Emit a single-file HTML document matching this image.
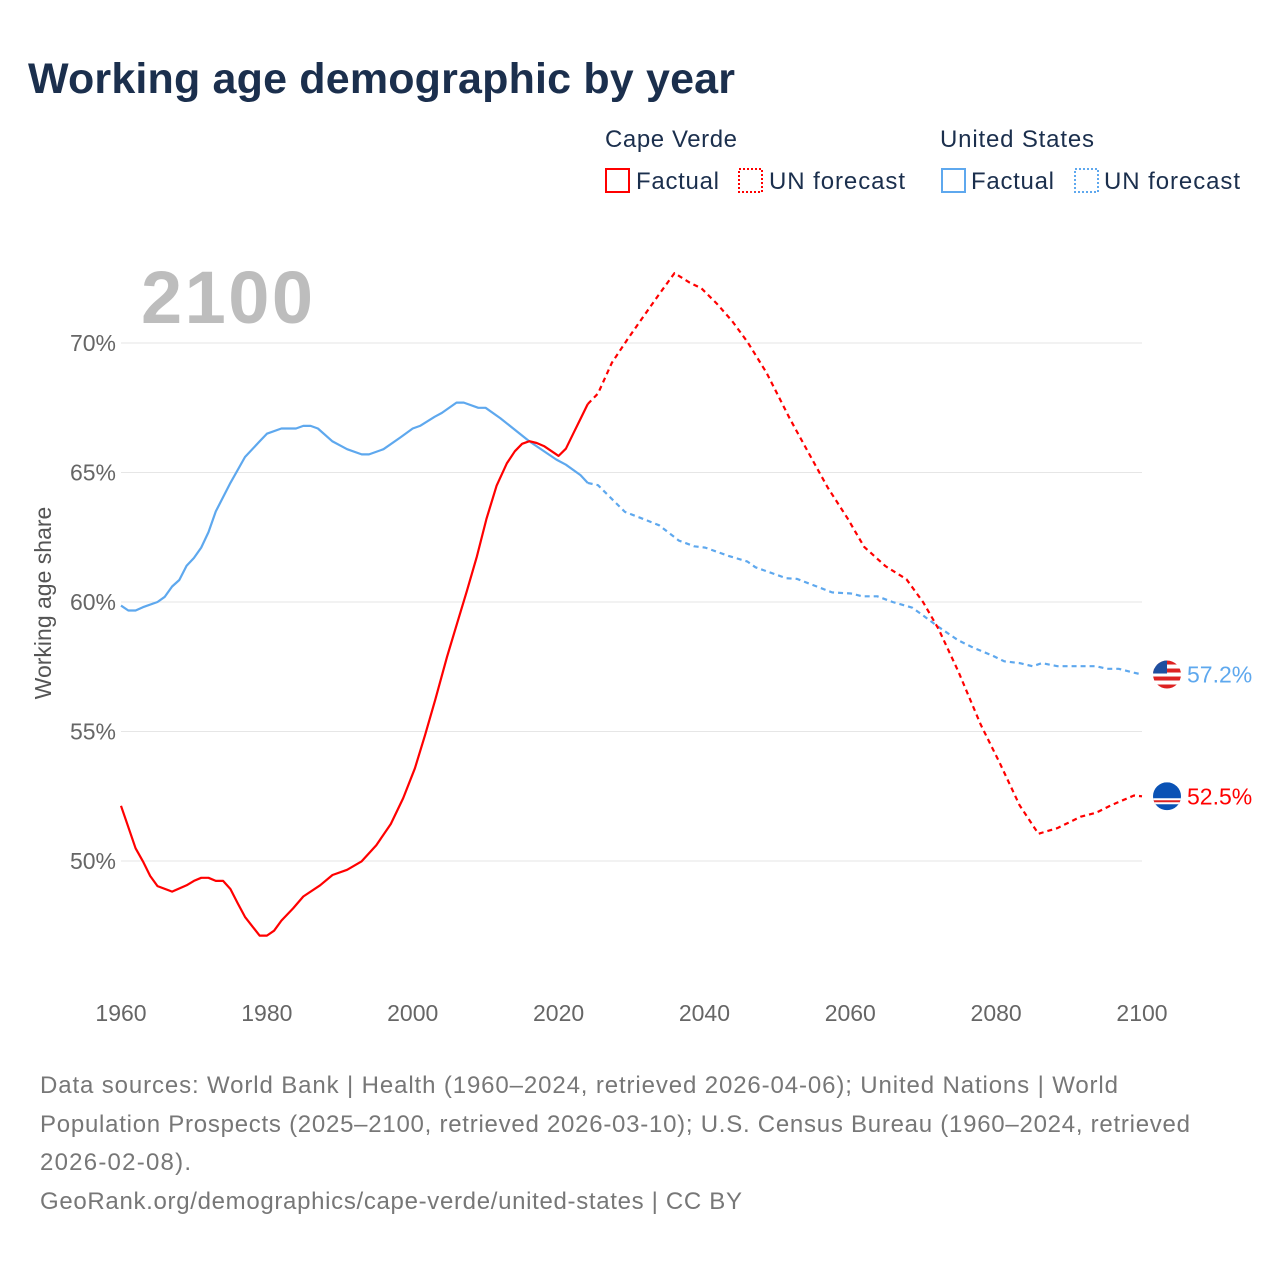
<!DOCTYPE html>
<html><head><meta charset="utf-8"><style>
body{margin:0;background:#fff;width:1280px;height:1280px;overflow:hidden;font-family:"Liberation Sans",sans-serif}
svg text{font-family:"Liberation Sans",sans-serif}
</style></head><body>
<svg id="chart" width="1280" height="1280" viewBox="0 0 1280 1280">
<text x="28" y="93" font-size="43" font-weight="bold" fill="#1b2f4d" textLength="707">Working age demographic by year</text>
<g>
<text x="605" y="147" font-size="24" fill="#1b2f4d" textLength="132">Cape Verde</text>
<text x="940" y="147" font-size="24" fill="#1b2f4d" textLength="154">United States</text>
<rect x="606" y="169" width="23" height="23" fill="none" stroke="#ff0000" stroke-width="2"/>
<text x="636" y="189" font-size="24" fill="#1b2f4d" textLength="83">Factual</text>
<rect x="739" y="169" width="23" height="23" fill="none" stroke="#ff0000" stroke-width="2" stroke-dasharray="2 2"/>
<text x="769" y="189" font-size="24" fill="#1b2f4d" textLength="136">UN forecast</text>
<rect x="942" y="169" width="23" height="23" fill="none" stroke="#5ea8ee" stroke-width="2"/>
<text x="971" y="189" font-size="24" fill="#1b2f4d" textLength="83">Factual</text>
<rect x="1075" y="169" width="23" height="23" fill="none" stroke="#5ea8ee" stroke-width="2" stroke-dasharray="2 2"/>
<text x="1104" y="189" font-size="24" fill="#1b2f4d" textLength="136">UN forecast</text>
</g>
<text x="141" y="323" font-size="74" font-weight="bold" fill="#bdbdbd" textLength="172">2100</text>
<text transform="translate(51,603) rotate(-90)" text-anchor="middle" font-size="23" fill="#555">Working age share</text>
<g id="grid"></g><g id="lines"></g><g id="xt"></g>
<g font-size="24" fill="#777">
<text x="40" y="1093" textLength="1078">Data sources: World Bank | Health (1960–2024, retrieved 2026-04-06); United Nations | World</text>
<text x="40" y="1132" textLength="1150">Population Prospects (2025–2100, retrieved 2026-03-10); U.S. Census Bureau (1960–2024, retrieved</text>
<text x="40" y="1170" textLength="151">2026-02-08).</text>
<text x="40" y="1209" textLength="702">GeoRank.org/demographics/cape-verde/united-states | CC BY</text>
</g>
</svg>
<script>
const yTicks=[50,55,60,65,70];
const xTicks=[1960,1980,2000,2020,2040,2060,2080,2100];
const cvYears=[1960,1962,1963,1964,1965,1967,1969,1970,1971,1972,1973,1974,1975,1976,1977,1978,1979,1980,1981,1982,1983.6,1985,1987.3,1989,1991,1993,1995,1997,1998.7,2000.3,2001.7,2003.1,2004.7,2006,2007.4,2008.8,2010.1,2011.5,2012.9,2014,2015,2016,2017,2018,2020,2021,2022,2023,2024];
const cvVals=[52.13,50.49,49.99,49.42,49.03,48.82,49.06,49.23,49.35,49.35,49.23,49.23,48.92,48.37,47.84,47.48,47.12,47.12,47.31,47.7,48.17,48.63,49.06,49.46,49.66,49.99,50.61,51.43,52.43,53.58,54.87,56.23,57.88,59.1,60.4,61.76,63.2,64.49,65.35,65.82,66.11,66.21,66.14,66.02,65.64,65.92,66.5,67.07,67.64];
const cvFYears=[2024,2025.4,2027.3,2029.4,2031.2,2033.6,2035.9,2038,2039.6,2041.7,2043.8,2045.9,2048.5,2051.7,2054.3,2056.9,2059.6,2061.9,2064.8,2067.7,2070,2072.1,2074.8,2077.9,2080.5,2083.2,2085.8,2088.4,2091.6,2093.7,2095.8,2098.9,2100];
const cvFVals=[67.64,68.05,69.23,70.12,70.85,71.81,72.7,72.33,72.11,71.52,70.85,70.04,68.86,67.08,65.75,64.42,63.24,62.13,61.39,60.88,59.99,58.96,57.33,55.26,53.78,52.16,51.05,51.27,51.71,51.86,52.16,52.53,52.5];
const usYears=[1960,1961,1962,1963,1965,1966,1967,1968,1969,1970,1971,1972,1973,1975,1977,1979,1980,1982,1984,1985,1986,1987,1989,1991,1993,1994,1996,1998.3,2000,2001,2003,2004,2006,2007,2009,2010,2012,2016,2019.7,2021,2023,2024];
const usVals=[59.86,59.67,59.67,59.8,60.0,60.2,60.6,60.85,61.4,61.7,62.1,62.7,63.5,64.6,65.6,66.2,66.5,66.7,66.7,66.8,66.8,66.7,66.2,65.9,65.7,65.7,65.9,66.35,66.7,66.8,67.15,67.3,67.7,67.7,67.5,67.5,67.1,66.2,65.5,65.3,64.9,64.6];
const usFYears=[2024,2025.4,2029.1,2031.2,2033.8,2036.5,2038.6,2040.1,2043.3,2045.9,2047,2051.2,2052.7,2057.5,2060.1,2061.6,2063.7,2065.8,2068.5,2070,2072.1,2074.8,2076.9,2079.5,2081.1,2083.2,2085,2086.3,2088.4,2093.7,2095.2,2096.8,2098.9,2100];
const usFVals=[64.6,64.51,63.48,63.25,62.96,62.37,62.15,62.1,61.78,61.56,61.34,60.92,60.89,60.37,60.33,60.22,60.22,60.0,59.78,59.48,59.04,58.52,58.23,57.93,57.71,57.64,57.52,57.64,57.52,57.52,57.42,57.42,57.27,57.2];
const NS='http://www.w3.org/2000/svg';
const xS=y=>121+(y-1960)*(1021/140);
const yS=v=>861-(v-50)*25.9;
function mk(tag,attrs,parent){const e=document.createElementNS(NS,tag);for(const k in attrs)e.setAttribute(k,attrs[k]);parent.appendChild(e);return e;}
const grid=document.getElementById('grid');
yTicks.forEach(t=>{
 const l=mk('line',{x1:121,x2:1142,y1:yS(t),y2:yS(t),stroke:'#e6e6e6','stroke-width':1},grid);
 
 
 const tx=mk('text',{x:116,y:yS(t)+8,'text-anchor':'end','font-size':23,fill:'#666'},grid);
 tx.textContent=t+'%';
 
 
});
const xt=document.getElementById('xt');
xTicks.forEach(t=>{
 const tx=mk('text',{x:xS(t),y:1021,'text-anchor':'middle','font-size':23,fill:'#666'},xt);
 tx.textContent=t;
 
 
});
const lines=document.getElementById('lines');
function path(xs,vs,color,dash,name){
 const d=xs.map((x,i)=>(i?'L':'M')+xS(x).toFixed(1)+','+yS(vs[i]).toFixed(1)).join('');
 const p=mk('path',{d:d,fill:'none',stroke:color,'stroke-width':2.2,'stroke-linejoin':'round'},lines);
 if(dash)p.setAttribute('stroke-dasharray','5 4');
 
 
}
path(usYears,usVals,'#5ea8ee',false,'us-factual-line');
path(usFYears,usFVals,'#5ea8ee',true,'us-forecast-line');
path(cvYears,cvVals,'#ff0000',false,'cv-factual-line');
path(cvFYears,cvFVals,'#ff0000',true,'cv-forecast-line');
const usEnd=usFVals[usFVals.length-1], cvEnd=cvFVals[cvFVals.length-1];
const ux=1167, uy=yS(usEnd), cy=yS(cvEnd);
const g=mk('g',{},lines);


mk('defs',{},g).innerHTML='<clipPath id="cu"><circle cx="'+ux+'" cy="'+uy+'" r="14"/></clipPath><clipPath id="cc"><circle cx="'+ux+'" cy="'+cy+'" r="14"/></clipPath>';
const fu=mk('g',{'clip-path':'url(#cu)'},g);
mk('rect',{x:ux-14,y:uy-14,width:28,height:28,fill:'#fff'},fu);
for(let i=0;i<4;i++)mk('rect',{x:ux-14,y:uy-14+i*8,width:28,height:4,fill:'#d22'},fu);
mk('rect',{x:ux-14,y:uy-14,width:14,height:13,fill:'#1f4fa0'},fu);
const gc=mk('g',{'clip-path':'url(#cc)'},lines);


mk('rect',{x:ux-14,y:cy-14,width:28,height:28,fill:'#0a52b5'},gc);
mk('rect',{x:ux-14,y:cy+2,width:28,height:6,fill:'#fff'},gc);
mk('rect',{x:ux-14,y:cy+4,width:28,height:2,fill:'#d22'},gc);
const l1=mk('text',{x:1187,y:uy+8,'font-size':23,fill:'#5ea8ee'},lines);
l1.textContent=usEnd.toFixed(1)+'%';


const l2=mk('text',{x:1187,y:cy+8,'font-size':23,fill:'#ff0000'},lines);
l2.textContent=cvEnd.toFixed(1)+'%';


</script>
</body></html>
